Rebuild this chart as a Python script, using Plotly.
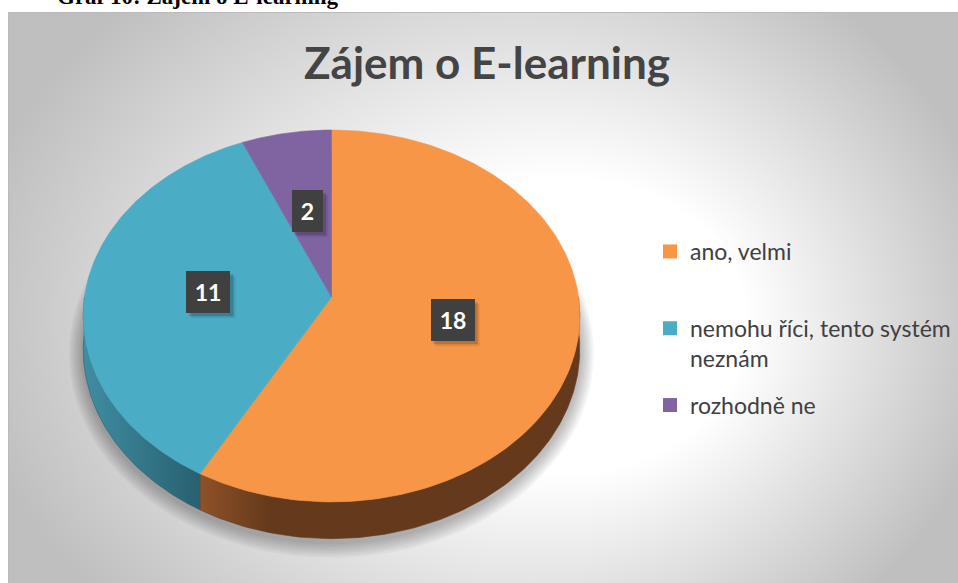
import base64
import numpy as np
import plotly.graph_objects as go

# ---------------- data ----------------
categories = ["ano, velmi", "nemohu říci, tento systém neznám", "rozhodně ne"]
values = [18, 11, 2]
title_text = "Zájem o E-learning"
caption_text = "Graf 10: Zájem o E-learning"

# ---------------- style ----------------
top_colors = ["#F79646", "#4BACC6", "#8064A2"]
side_light = ["#8E5228", "#3F8EA3", "#65507F"]
side_dark = ["#653A1C", "#28606F", "#4A3A5E"]
side_fade = [0.18, 1.0, 1.0]
legend_names = ["ano, velmi<br> ", "nemohu říci, tento systém<br>neznám", "rozhodně ne"]

W, H = 958, 583
CX, CY = 331.5, 297.0     # pie centre (screen px)
RA, RB = 247.0, 184.0     # ellipse radii
K = 0.102                 # perspective factor
DEPTH = 33.0              # pie thickness


def proj(theta, r=1.0, drop=0.0, a=RA, b=RB):
    u = r * np.sin(theta)
    v = r * np.cos(theta)
    s = 1.0 / (1.0 + K * v)
    return CX + a * u * s, CY - b * v * s + drop * s


fig = go.Figure()

# soft shadow under the pie
full = np.linspace(0, 2 * np.pi, 361)
for e in range(14, 1, -2):
    x, y = proj(full, drop=DEPTH + 3, a=RA + e, b=RB + e)
    fig.add_trace(go.Scatter(x=x, y=y, mode="lines", fill="toself",
                             line=dict(width=0), fillcolor="rgba(0,0,0,0.04)",
                             hoverinfo="skip", showlegend=False))

total = float(sum(values))
cum = np.concatenate([[0.0], np.cumsum(values)]) / total * 2 * np.pi

# side walls
for i in range(len(values)):
    lo, hi = max(cum[i], np.pi / 2), min(cum[i + 1], 3 * np.pi / 2)
    if hi <= lo:
        continue
    th = np.linspace(lo, hi, 120)
    xt, yt = proj(th)
    xb, yb = proj(th[::-1], drop=DEPTH)
    xs = np.concatenate([xt, xb, xt[:1]])
    ys = np.concatenate([yt, yb, yt[:1]])
    fig.add_trace(go.Scatter(
        x=xs, y=ys, mode="lines", fill="toself",
        line=dict(width=0.6, color=side_dark[i]),
        fillgradient=dict(type="horizontal",
                          colorscale=[[0, side_light[i]], [side_fade[i], side_dark[i]], [1, side_dark[i]]]),
        hoverinfo="skip", showlegend=False))

# top faces
for i in range(len(values)):
    th = np.linspace(cum[i], cum[i + 1], 200)
    xt, yt = proj(th)
    xs = np.concatenate([[CX], xt, [CX]])
    ys = np.concatenate([[CY], yt, [CY]])
    fig.add_trace(go.Scatter(x=xs, y=ys, mode="lines", fill="toself",
                             line=dict(width=0.6, color=top_colors[i]),
                             fillcolor=top_colors[i], hoverinfo="skip",
                             showlegend=False))

# legend entries
for i, name in enumerate(legend_names):
    fig.add_trace(go.Scatter(x=[None], y=[None], mode="markers", name=name,
                             legendgroup=str(i),
                             marker=dict(symbol="square", size=14, color=top_colors[i])))

# data labels
shapes = []
annotations = []
for i, v in enumerate(values):
    mid = (cum[i] + cum[i + 1]) / 2
    lx, ly = proj(mid, r=0.5)
    txt = str(v)
    bw = 18 + 13 * len(txt)
    bh = 42
    for off, alpha in [(5, 0.08), (3, 0.18)]:
        shapes.append(dict(type="rect", xref="x", yref="y", layer="above",
                           x0=lx - bw / 2 + off, x1=lx + bw / 2 + off,
                           y0=ly - bh / 2 + off, y1=ly + bh / 2 + off,
                           line=dict(width=0), fillcolor=f"rgba(0,0,0,{alpha})"))
    annotations.append(dict(x=lx, y=ly, xref="x", yref="y", text=f"<b>{txt}</b>",
                            showarrow=False, xanchor="center", yanchor="middle",
                            width=bw, height=bh, bgcolor="#404040",
                            borderpad=0, borderwidth=0,
                            font=dict(family="Lato", size=23, color="#ffffff")))

# legend box
shapes.append(dict(type="rect", xref="x", yref="y", layer="below",
                   x0=655, x1=954, y0=231, y1=453,
                   line=dict(width=0), fillcolor="rgba(242,242,242,0.6)"))

# caption (cut off at the top of the page)
annotations.append(dict(x=55, y=11, xref="x", yref="y", text=f"<b>{caption_text}</b>",
                        showarrow=False, xanchor="left", yanchor="bottom",
                        font=dict(family="Liberation Serif", size=23, color="#000000")))

# background (chart area gradient)
svg = """<svg xmlns="http://www.w3.org/2000/svg" width="950" height="571" viewBox="0 0 950 571">
<defs><radialGradient id="g" gradientUnits="userSpaceOnUse" cx="0" cy="0" r="1" fx="0.24" fy="0.05"
 gradientTransform="translate(475 300) scale(520 420)">
<stop offset="0" stop-color="#ffffff"/><stop offset="0.35" stop-color="#ffffff"/>
<stop offset="1" stop-color="#bfbfbf"/></radialGradient></defs>
<rect x="0" y="0" width="950" height="571" fill="url(#g)"/>
<line x1="0" y1="0.5" x2="950" y2="0.5" stroke="#bababa" stroke-width="1"/>
<line x1="0.5" y1="0" x2="0.5" y2="571" stroke="#bababa" stroke-width="1"/>
</svg>"""
uri = "data:image/svg+xml;base64," + base64.b64encode(svg.encode("utf-8")).decode("ascii")

fig.update_layout(
    width=W, height=H, autosize=False,
    margin=dict(l=0, r=0, t=0, b=0),
    paper_bgcolor="#ffffff", plot_bgcolor="rgba(0,0,0,0)",
    xaxis=dict(range=[0, W], visible=False, fixedrange=True),
    yaxis=dict(range=[H, 0], visible=False, fixedrange=True),
    title=dict(text=f"<b>{title_text}</b>", x=487 / W, xanchor="center",
               y=1 - 64 / H, yanchor="middle",
               font=dict(family="Lato", size=44, color="#444444")),
    showlegend=True,
    legend=dict(x=650 / W, y=1 - 230 / H, xanchor="left", yanchor="top",
                bgcolor="rgba(0,0,0,0)", borderwidth=0, valign="top",
                tracegroupgap=14, itemclick=False, itemdoubleclick=False,
                font=dict(family="Lato", size=23, color="#404040")),
    images=[dict(source=uri, xref="x", yref="y", x=8, y=12, sizex=950, sizey=571,
                 sizing="stretch", layer="below", xanchor="left", yanchor="top")],
    shapes=shapes,
    annotations=annotations,
    hovermode=False,
)

fig.write_html("out.html", config={"displayModeBar": False, "staticPlot": True},
               post_script="document.body.style.margin='0';document.body.style.overflow='hidden';")
